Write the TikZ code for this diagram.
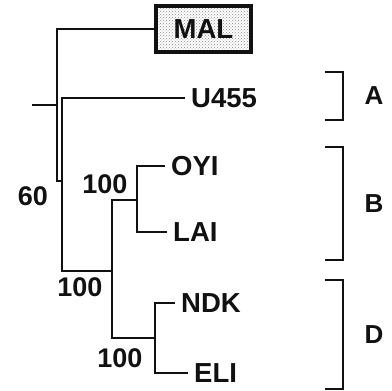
\documentclass[tikz,border=0pt]{standalone}
\usepackage{fontspec}
\setmainfont{Liberation Sans}
\usetikzlibrary{positioning,calc,patterns}
\usepackage{xcolor}
\definecolor{trInk}{HTML}{111111}
\definecolor{trStip}{HTML}{8A8A8A}
\newcommand{\cladebar}[4]{%
  \draw[brk] (325,#1) -- (343,#1) -- (343,#2) -- (325,#2);
  \node[grp] (#4) at (374,{(#1+#2)/2}) {#3};}

\begin{document}
\begin{tikzpicture}[x=1pt, y=-1pt,
  br/.style={draw=trInk, line width=2.3pt},
  brk/.style={draw=trInk, line width=2.2pt},
  leaf/.style={anchor=west, inner xsep=6pt, inner ysep=0pt, font=\fontsize{27.5}{30}\selectfont\bfseries, text=trInk},
  sup/.style={inner sep=0pt, font=\fontsize{27}{30}\selectfont\bfseries, text=trInk},
  grp/.style={inner sep=0pt, font=\fontsize{26}{30}\selectfont\bfseries, text=trInk},
  outg/.style={draw=trInk, line width=3.2pt, minimum width=95pt, minimum height=46pt, inner sep=0pt,
    preaction={fill=white}, pattern=crosshatch dots, pattern color=trStip,
    font=\fontsize{27.5}{30}\selectfont\bfseries, text=trInk}]
\useasboundingbox (0,0) rectangle (392,391);

% internal nodes of the tree
\coordinate (stem) at (32,105);
\coordinate (rt)   at (57,105);
\coordinate (n60)  at (62,181);
\coordinate (nBD)  at (112,271);
\coordinate (nB)   at (137,200);
\coordinate (nD)   at (155,338);

% taxa
\node[outg] (mal) at (203.5,29) {MAL};
\node[leaf] (u455) at (185,98)  {U455};
\node[leaf] (oyi)  at (165,166) {OYI};
\node[leaf] (lai)  at (167,232) {LAI};
\node[leaf] (ndk)  at (175,303) {NDK};
\node[leaf] (eli)  at (188,373) {ELI};

% branches
\draw[br] (stem) -- (rt);
\draw[br] (rt) |- (mal.west);
\draw[br] (rt) |- (n60);
\draw[br] (n60) |- (u455.west);
\draw[br] (n60) |- (nBD);
\draw[br] (nBD) |- (nB);
\draw[br] (nBD) |- (nD);
\foreach \p/\c in {nB/oyi,nB/lai,nD/ndk,nD/eli}{\draw[br] (\p) |- (\c.west);}

% bootstrap values
\node[sup] (s60)  at (33,196)  {60};
\node[sup] (sB)   at (105,184) {100};
\node[sup] (sBD)  at (80,287)  {100};
\node[sup] (sD)   at (120,358) {100};

% groups
\cladebar{72}{120}{A}{gA}
\cladebar{147}{260}{B}{gB}
\cladebar{280}{389}{D}{gD}
\end{tikzpicture}
\end{document}
